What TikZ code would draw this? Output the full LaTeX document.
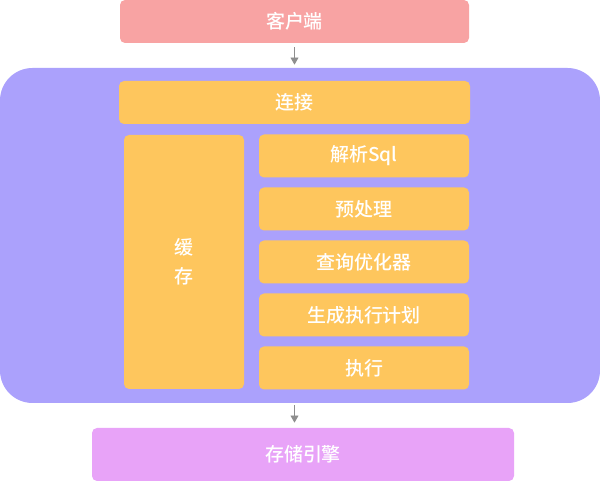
\documentclass[tikz,border=0pt]{standalone}
\usepackage{fontspec}
\setmainfont{Noto Sans CJK SC}[BoldFont={Noto Sans CJK SC Medium}]
\usetikzlibrary{arrows.meta}
\definecolor{clientred}{HTML}{F8A3A3}
\definecolor{layerblue}{HTML}{ABA1FC}
\definecolor{stepyellow}{HTML}{FEC65D}
\definecolor{enginepink}{HTML}{E8A3F8}
\definecolor{arrowgray}{HTML}{8E8E8E}
\begin{document}
\begin{tikzpicture}
\tikzstyle{block}=[rectangle, rounded corners=0.1cm, inner sep=0pt, text=white, font=\fontsize{10.8}{16.5}\selectfont\bfseries]
\tikzstyle{stepbox}=[block, fill=stepyellow, minimum width=4.2cm, minimum height=0.86cm]
\tikzstyle{flow}=[arrowgray, -{Triangle[length=4pt,width=4.5pt]}]
\useasboundingbox (0,0) rectangle (12,9.62);

\node[block, fill=layerblue, rounded corners=0.65cm, minimum width=12cm, minimum height=6.7cm] (outer) at (6,4.91) {};
\node[block, fill=clientred, minimum width=6.98cm, minimum height=0.86cm] (client) at (5.89,9.19) {客户端};
\node[block, fill=stepyellow, minimum width=7.02cm, minimum height=0.86cm] (conn) at (5.89,7.57) {连接};
\node[block, fill=stepyellow, minimum width=2.4cm, minimum height=5.08cm, align=center] (cache) at (3.68,4.38) {缓\\存};

\foreach \name/\txt [count=\i from 0] in {parse/解析Sql, prep/预处理, opt/查询优化器, plan/生成执行计划, exec/执行} {
  \node[stepbox] (\name) at (7.28,6.5-1.06*\i) {\txt};}

\node[block, fill=enginepink, minimum width=8.44cm, minimum height=1.06cm] (engine) at (6.06,0.53) {存储引擎};

\draw[flow] ([yshift=-0.08cm]client.south) -- ([yshift=0.06cm]client.south |- outer.north);
\draw[flow] ([yshift=-0.04cm]outer.south -| client.south) -- ([yshift=0.1cm]client.south |- engine.north);
\end{tikzpicture}
\end{document}
